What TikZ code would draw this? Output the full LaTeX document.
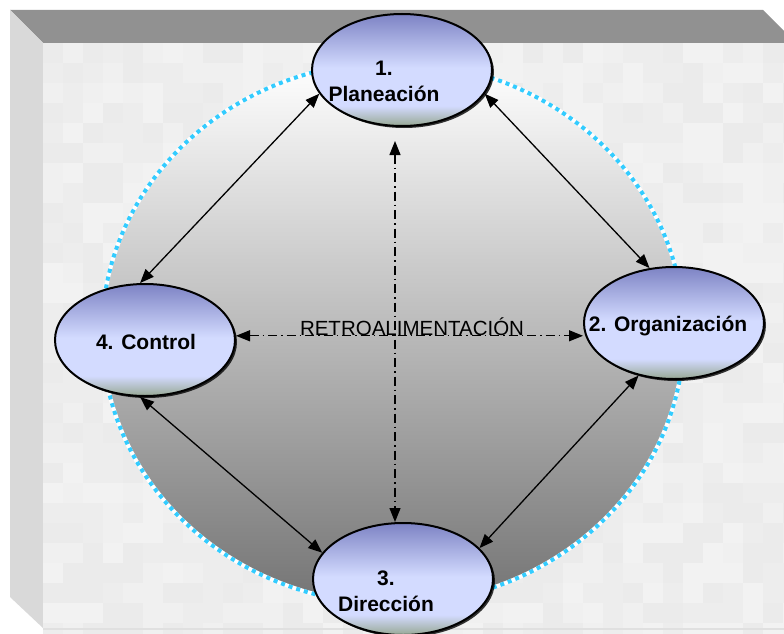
\documentclass[tikz,border=0pt]{standalone}
\usepackage{fontspec}
\setmainfont{Liberation Sans}
\usetikzlibrary{shapes.geometric,arrows.meta,shadows}
\definecolor{bevtop}{HTML}{919191}
\definecolor{bevleft}{HTML}{D9D9D9}
\definecolor{facegray}{HTML}{EBEBEB}
\definecolor{ringblue}{HTML}{33CCFF}
\definecolor{eldark}{HTML}{7D83C4}
\definecolor{ellight}{HTML}{D3DBFF}
\definecolor{elgreen}{HTML}{97A894}
\definecolor{balldark}{HTML}{747474}
\pgfdeclareverticalshading{elshade}{100bp}{color(0bp)=(elgreen); color(25bp)=(elgreen); color(34bp)=(ellight); color(51bp)=(ellight); color(75bp)=(eldark); color(100bp)=(eldark)}
\tikzset{
  phase/.style={ellipse, draw=black, line width=2pt, shading=elshade,
    minimum width=180pt, minimum height=112pt, inner sep=0pt,
    drop shadow={shadow xshift=2pt, shadow yshift=-2pt, fill=black, opacity=0.8}},
  phasetext/.style={font=\bfseries\fontsize{21}{26}\selectfont, align=center},
  link/.style={{Triangle[length=14pt,width=11pt]}-{Triangle[length=14pt,width=11pt]}, line width=1.3pt},
  fback/.style={link, line width=1.2pt, dash pattern=on 9pt off 4pt on 1.5pt off 4pt}
}
\begin{document}
\begin{tikzpicture}[x=1pt,y=-1pt]
  \def\cx{393}; \def\cy{333};
  \def\rx{291}; \def\ry{271};
  \useasboundingbox (0,0) rectangle (784,634);
  \clip (0,0) rectangle (784,634);
  \fill[white] (0,0) rectangle (784,634);
  % frame
  \fill[bevtop] (10,10) -- (763,10) -- (796,43) -- (43,43) -- cycle;
  \fill[bevleft] (10,10) -- (43,43) -- (43,628) -- (10,597) -- cycle;
  \fill[facegray] (43,43) rectangle (790,628);
  \pgfmathsetseed{7}
  \foreach \i in {0,...,37}
    \foreach \j in {0,...,29} {
      \pgfmathsetmacro\t{int(5+random(0,3))}
      \fill[black!\t] ({43+20*\i},{43+20*\j}) rectangle ++(20,20);
    }
  \draw[black!12, line width=1.5pt] (43,629) -- (784,629);
  % ball and ring
  \shade[top color=white, bottom color=balldark] (\cx,\cy) ellipse [x radius=\rx, y radius=\ry];
  \draw[white, line width=4pt] (\cx,\cy) ellipse [x radius=\rx, y radius=\ry];
  \draw[ringblue, line width=4pt, dash pattern=on 4pt off 4pt] (\cx,\cy) ellipse [x radius=\rx, y radius=\ry];
  % phases
  \node[phase, label={[phasetext, xshift=-18pt, yshift=-11pt]center:1.\\Planeación}] (pl) at (402,70) {};
  \node[phase, label={[phasetext, xshift=-6pt, yshift=-3pt]center:2. Organización}] (or) at (674,323) {};
  \node[phase, label={[phasetext, xshift=-17pt, yshift=-12pt]center:3.\\Dirección}] (di) at (403,579) {};
  \node[phase, label={[phasetext, xshift=1pt, yshift=-2pt]center:4. Control}] (co) at (145,340) {};
  \node[font=\fontsize{20.5}{22}\selectfont] (rt) at (412,327) {RETROALIMENTACIÓN};
  \coordinate (fbt) at (395,141);
  % links
  \draw[link] (pl.196) -- (co.95);
  \draw[link] (pl.344) -- (or.114);
  \draw[link] (co.265) -- (di.162);
  \draw[link] (or.236) -- (di.22);
  \draw[fback] (fbt) -- (di.north -| fbt);
  \draw[fback] (co.east |- rt.base) -- (or.west |- rt.base);
\end{tikzpicture}
\end{document}
